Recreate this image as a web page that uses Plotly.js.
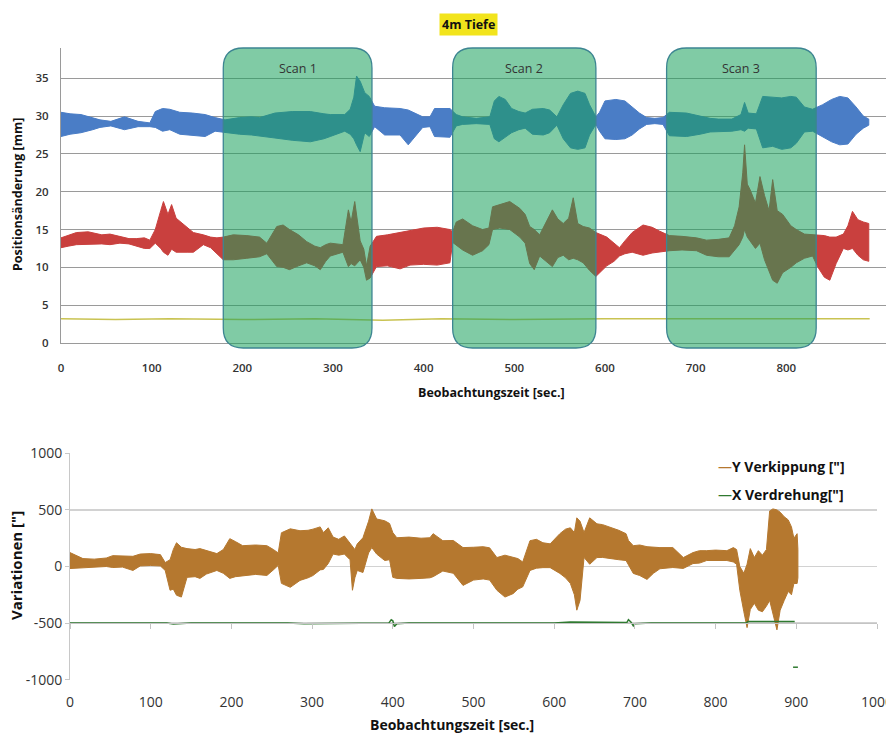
<!DOCTYPE html>
<html>
<head>
<meta charset="utf-8">
<script src="https://cdn.plot.ly/plotly-3.0.1.min.js"></script>
<style>html,body{margin:0;padding:0;background:#fff;}#chart{width:886px;height:736px;}</style>
</head>
<body>
<div id="chart"></div>
<script>
// ---------- Top chart: Positionsänderung [mm] (envelopes) ----------
const blueT  = [0,10,22,35,43,55,70,85,98,104,112,120,131,145,159,170,181,197,210,219,236,255,275,290,297,313,319,323,326,330,335,340,346,357,374,383,399,407,412,429,436,443,458,473,478,483,490,497,505,512,520,532,539,547,554,562,570,578,583,590,594,600,612,622,630,638,646,655,664,671,690,705,716,725,740,750,754,758,767,774,785,795,805,811,820,829,840,850,859,868,877,885,891];
const blueHi = [30.5,30.3,30.2,29.8,29.5,29.3,29.9,29.3,29.1,30.6,31.0,30.9,30.5,30.4,30.2,29.8,29.5,29.8,29.9,29.8,30.4,30.6,30.6,30.3,30.2,30.2,30.9,32.5,35.3,34.6,33.1,32.6,31.3,31.1,31.0,30.8,29.9,29.9,31.0,31.0,30.2,29.9,29.7,29.9,32.0,32.6,32.2,31.0,30.6,30.4,30.9,31.0,30.8,29.9,31.5,33.0,33.3,33.0,31.5,29.9,30.5,32.0,32.2,32.0,31.2,30.4,29.8,29.7,29.8,30.5,30.4,30.0,29.7,29.6,29.6,30.2,31.8,30.4,30.3,32.6,32.5,32.4,32.6,32.5,31.2,30.9,31.5,32.2,32.6,32.4,31.2,30.0,29.6];
const blueLo = [27.3,27.6,27.8,28.2,28.5,28.7,28.2,28.6,28.6,28.5,28.0,28.2,27.6,27.5,27.3,28.0,27.8,27.6,27.5,27.4,27.1,26.8,26.6,27.0,27.3,28.0,27.6,27.0,26.2,25.3,27.8,27.3,28.6,27.5,27.5,26.2,28.5,28.6,27.3,27.2,28.7,28.9,29.0,28.9,27.0,26.6,27.2,27.8,28.2,28.4,27.6,27.5,27.8,28.8,27.0,25.8,25.6,25.8,27.5,28.9,28.0,27.0,26.9,27.0,27.5,28.3,28.9,29.0,28.9,27.4,27.3,27.6,27.9,27.9,28.0,28.2,28.0,28.4,28.3,25.8,26.0,25.6,25.8,26.4,27.9,28.0,27.3,26.6,26.2,26.3,27.6,28.4,28.8];

const redT  = [0,8,17,30,45,54,65,75,83,92,98,104,110,113,118,122,127,133,140,146,157,165,172,179,190,205,219,227,238,245,252,262,271,280,286,292,297,311,317,320,324,330,334,337,341,348,360,374,385,400,415,429,432,436,443,454,465,472,476,484,495,506,512,517,522,528,535,542,548,554,560,565,570,576,583,590,602,610,616,622,630,642,652,660,671,685,701,712,725,737,743,748,752,754,757,760,766,771,776,781,785,790,796,805,811,820,829,835,842,848,855,863,868,873,879,885,891];
const redHi = [13.9,14.2,14.6,14.7,14.3,14.4,14.1,13.8,13.8,13.9,13.6,15.0,17.5,18.7,17.0,18.3,16.5,15.9,15.2,14.6,14.3,14.0,13.9,14.0,14.3,14.2,14.0,13.2,15.4,15.6,15.0,14.3,13.4,12.8,12.6,13.0,13.2,13.0,17.6,16.0,18.7,13.5,12.4,10.2,12.8,14.1,14.3,14.6,14.8,15.2,15.3,15.0,14.7,16.0,16.4,15.5,15.0,15.2,18.0,18.3,18.7,17.8,17.0,15.4,15.0,14.3,16.0,17.6,16.4,15.8,16.5,19.2,15.8,15.4,15.2,14.6,14.0,13.2,12.6,13.5,14.6,15.6,15.3,14.8,14.2,14.1,13.9,13.6,13.7,13.9,15.5,18.0,22.5,26.2,21.0,20.3,18.5,22.0,19.5,17.5,21.6,17.5,17.0,15.5,15.0,14.4,14.3,14.3,14.2,14.0,14.0,14.4,15.5,17.4,16.3,16.0,15.8];
const redLo = [12.6,12.8,13.0,13.0,13.1,13.0,13.2,13.1,12.8,12.5,12.5,13.2,12.5,12.0,11.6,12.4,12.0,12.0,12.0,12.0,13.0,12.6,11.8,11.0,11.0,11.2,11.4,11.8,10.1,10.0,9.7,10.2,10.6,10.2,9.7,10.8,11.5,12.0,10.1,10.5,10.2,11.0,10.0,8.3,8.6,10.1,10.2,9.8,10.3,10.4,10.3,10.6,13.3,13.0,12.3,11.6,12.2,13.0,15.0,15.2,15.0,14.0,13.2,10.5,9.7,11.5,10.8,10.1,11.3,11.6,11.0,11.2,11.0,10.6,9.6,8.8,10.2,10.8,11.5,11.8,12.0,11.6,11.9,12.0,12.2,12.3,12.2,11.6,11.4,11.4,12.2,13.0,14.0,15.0,14.0,13.5,12.5,13.2,11.0,9.5,8.3,7.9,9.3,10.0,10.6,11.2,11.5,10.0,8.7,8.3,10.5,12.5,12.3,12.5,11.6,11.0,10.8];

const yellowT = [0,60,120,200,280,355,420,500,600,700,800,892];
const yellowV = [3.2,3.1,3.2,3.1,3.2,3.0,3.2,3.1,3.2,3.2,3.2,3.2];

const scanNames = ["Scan 1","Scan 2","Scan 3"];
const scanStart = [179, 432, 668];
const scanEnd   = [343, 590, 833];

// ---------- Bottom chart: Variationen ["] ----------
const orangeT  = [0,8,16,30,45,53,65,78,87,100,112,118,124,128,132,138,145,155,161,169,182,190,198,205,214,230,244,252,258,262,273,285,295,301,310,314,320,326,333,340,347,350,353,356,363,370,374,380,390,396,400,405,420,435,446,450,462,475,487,500,512,520,529,539,549,555,561,570,578,586,595,607,614,620,625,628,632,637,644,653,660,669,680,689,692,698,706,715,723,731,747,760,772,780,789,800,814,822,826,830,835,839,843,848,853,858,863,867,871,876,880,885,890,894,897,901,902];
const orangeHi = [123,95,70,65,75,96,95,90,110,114,105,35,60,150,210,170,158,150,158,140,114,150,246,220,184,190,184,150,120,298,333,316,320,330,350,300,342,260,240,270,200,180,150,200,254,400,509,420,404,380,300,254,260,250,254,290,228,230,167,170,175,165,79,100,79,70,40,228,240,210,200,290,330,342,300,430,400,300,430,377,370,350,320,290,230,184,190,175,170,167,167,79,123,140,140,145,140,167,150,0,-60,20,158,79,140,100,150,491,509,500,480,440,412,350,250,290,150];
const orangeLo = [-18,-10,-9,-5,0,-9,-5,-35,5,9,5,-35,-210,-200,-254,-270,-96,-90,-105,-67,-35,-60,-105,-90,-79,-70,-79,-30,10,-149,-184,-123,-100,-80,-30,-26,26,110,100,110,60,-210,-100,-35,-53,120,167,110,53,60,-96,-105,-110,-105,-100,-90,-40,-60,-167,-120,-110,-120,-210,-270,-240,-200,-180,-35,-15,-10,-10,-61,-100,-149,-250,-386,-300,80,20,79,80,70,60,53,20,-61,-80,-114,-60,-20,-9,-17,26,30,53,53,53,40,20,-210,-400,-540,-380,-325,-386,-400,-350,-300,-420,-560,-386,-300,-220,-250,-150,-150,-100];

const greenT = [0,120,128,136,150,270,290,395,398,400,402,405,420,600,620,690,692,695,698,700,720,838,840,898,899,896,902];
const greenV = [-500,-500,-508,-505,-500,-500,-505,-500,-470,-480,-530,-505,-500,-500,-490,-495,-470,-490,-525,-505,-500,-500,-485,-485,null,-890,-890];

const seriesNames = ["Y Verkippung [\"]", "X Verdrehung[\"]"];
const bottomYTicks = [-1000, -500, 0, 500, 1000];
const bottomYLabels = ["-1000", "-500", "0", "500", "1000"];

// ---------- styles ----------
const FONT = "Open Sans, Liberation Sans, sans-serif";
const blueC = "#4A7DC6", redC = "#C9403E", yellowC = "#C9C352", orangeC = "#B5782F", greenC = "#2F7A30";

function band(t, hi, lo, color, xa, ya) {
  const xs = t.concat(t.slice().reverse());
  const ys = hi.concat(lo.slice().reverse());
  return {x: xs, y: ys, xaxis: xa, yaxis: ya, type: "scatter", mode: "lines",
          fill: "toself", fillcolor: color, line: {color: color, width: 1},
          showlegend: false, hoverinfo: "skip"};
}

const traces = [
  band(blueT, blueHi, blueLo, blueC, "x", "y"),
  band(redT, redHi, redLo, redC, "x", "y"),
  {x: yellowT, y: yellowV, xaxis: "x", yaxis: "y", type: "scatter", mode: "lines",
   line: {color: yellowC, width: 1.5}, showlegend: false},
  band(orangeT, orangeHi, orangeLo, orangeC, "x2", "y2"),
  {x: greenT, y: greenV, xaxis: "x3", yaxis: "y2", type: "scatter", mode: "lines",
   connectgaps: false, line: {color: greenC, width: 1.5}, showlegend: false}
];

const W = 886, H = 736;
const px = v => v / W, py = v => 1 - v / H;

// rounded rectangles for the scans (x in data, y in paper)
const shapes = [];
const rx = 22, ryP = 20 / H;
const yTop = py(48), yBot = py(348);
for (let i = 0; i < scanStart.length; i++) {
  const x0 = scanStart[i], x1 = scanEnd[i];
  const path = `M ${x0},${yBot + ryP} L ${x0},${yTop - ryP} Q ${x0},${yTop} ${x0 + rx},${yTop} ` +
    `L ${x1 - rx},${yTop} Q ${x1},${yTop} ${x1},${yTop - ryP} L ${x1},${yBot + ryP} ` +
    `Q ${x1},${yBot} ${x1 - rx},${yBot} L ${x0 + rx},${yBot} Q ${x0},${yBot} ${x0},${yBot + ryP} Z`;
  shapes.push({type: "path", xref: "x", yref: "paper", path: path, layer: "above",
    fillcolor: "rgba(24,160,91,0.55)", line: {color: "#3D8592", width: 1.3}});
}

function note(text, x, y, size, extra) {
  return Object.assign({text: text, xref: "paper", yref: "paper", x: px(x), y: py(y), showarrow: false,
    xanchor: "center", yanchor: "middle", font: {family: FONT, size: size, color: "#111"}}, extra || {});
}

const annotations = [
  note("<b>4m Tiefe</b>", 468, 25, 12.5, {bgcolor: "#F2E41C", borderpad: 2}),
  note("<b>Beobachtungszeit [sec.]</b>", 491, 392, 12.5),
  note("<b>Positionsänderung [mm]</b>", 17, 195, 12.5, {textangle: -90}),
  note("<b>Beobachtungszeit [sec.]</b>", 452, 724, 14),
  note("<b>Variationen [\"]</b>", 16, 566, 15, {textangle: -90}),
  note(`<span style="color:${orangeC}">—</span><b>${seriesNames[0]}</b>`, 716, 466, 14, {xanchor: "left"}),
  note(`<span style="color:${greenC}">—</span><b>${seriesNames[1]}</b>`, 716, 494, 14, {xanchor: "left"})
];
for (let i = 0; i < scanNames.length; i++) {
  annotations.push({text: scanNames[i], xref: "x", yref: "y", x: (scanStart[i] + scanEnd[i]) / 2, y: 36.3,
    showarrow: false, xanchor: "center", yanchor: "middle", font: {family: FONT, size: 12.5, color: "#333"}});
}

const layout = {
  width: W, height: H, margin: {l: 0, r: 0, t: 0, b: 0},
  paper_bgcolor: "#fff", plot_bgcolor: "rgba(0,0,0,0)", showlegend: false,
  font: {family: FONT},
  xaxis: {domain: [px(61), 1], range: [0, 910], dtick: 100, tick0: 0, showgrid: false, zeroline: false,
    showline: true, linecolor: "#9a9a9a", linewidth: 1, ticks: "", ticklabelstandoff: 14,
    tickfont: {family: FONT, size: 11.5, color: "#333", weight: 600}, anchor: "y"},
  yaxis: {domain: [py(343), py(48)], range: [0, 39], dtick: 5, tick0: 0, showgrid: true,
    gridcolor: "#9a9a9a", gridwidth: 1, zeroline: false, showline: true, linecolor: "#9a9a9a",
    ticks: "", ticklabelstandoff: 9, tickfont: {family: FONT, size: 11.5, color: "#333", weight: 600}, anchor: "x"},
  xaxis2: {domain: [px(70), px(877)], range: [0, 1000], dtick: 100, tick0: 0, showgrid: false,
    zeroline: false, showline: false, ticks: "", ticklabelstandoff: 12, anchor: "y2",
    ticklabeloverflow: "allow", tickfont: {family: FONT, size: 14, color: "#333"}},
  xaxis3: {overlaying: "x2", anchor: "free", position: py(623), range: [0, 1000], dtick: 100, tick0: 0,
    showgrid: false, zeroline: false, showline: true, linecolor: "#c4c4c4", ticks: "outside",
    ticklen: 5, tickcolor: "#c4c4c4", showticklabels: false},
  yaxis2: {domain: [py(680), py(453)], range: [-1003, 1003], tickmode: "array", tickvals: bottomYTicks,
    ticktext: bottomYLabels, showgrid: true,
    gridcolor: "#d2d2d2", gridwidth: 1.5, zeroline: false, showline: true, linecolor: "#c8c8c8",
    ticks: "outside", ticklen: 4, tickcolor: "#c8c8c8", anchor: "x2",
    tickfont: {family: FONT, size: 14, color: "#333"}},
  shapes: shapes,
  annotations: annotations
};

Plotly.newPlot("chart", traces, layout, {displayModeBar: false, staticPlot: true});
</script>
</body>
</html>
